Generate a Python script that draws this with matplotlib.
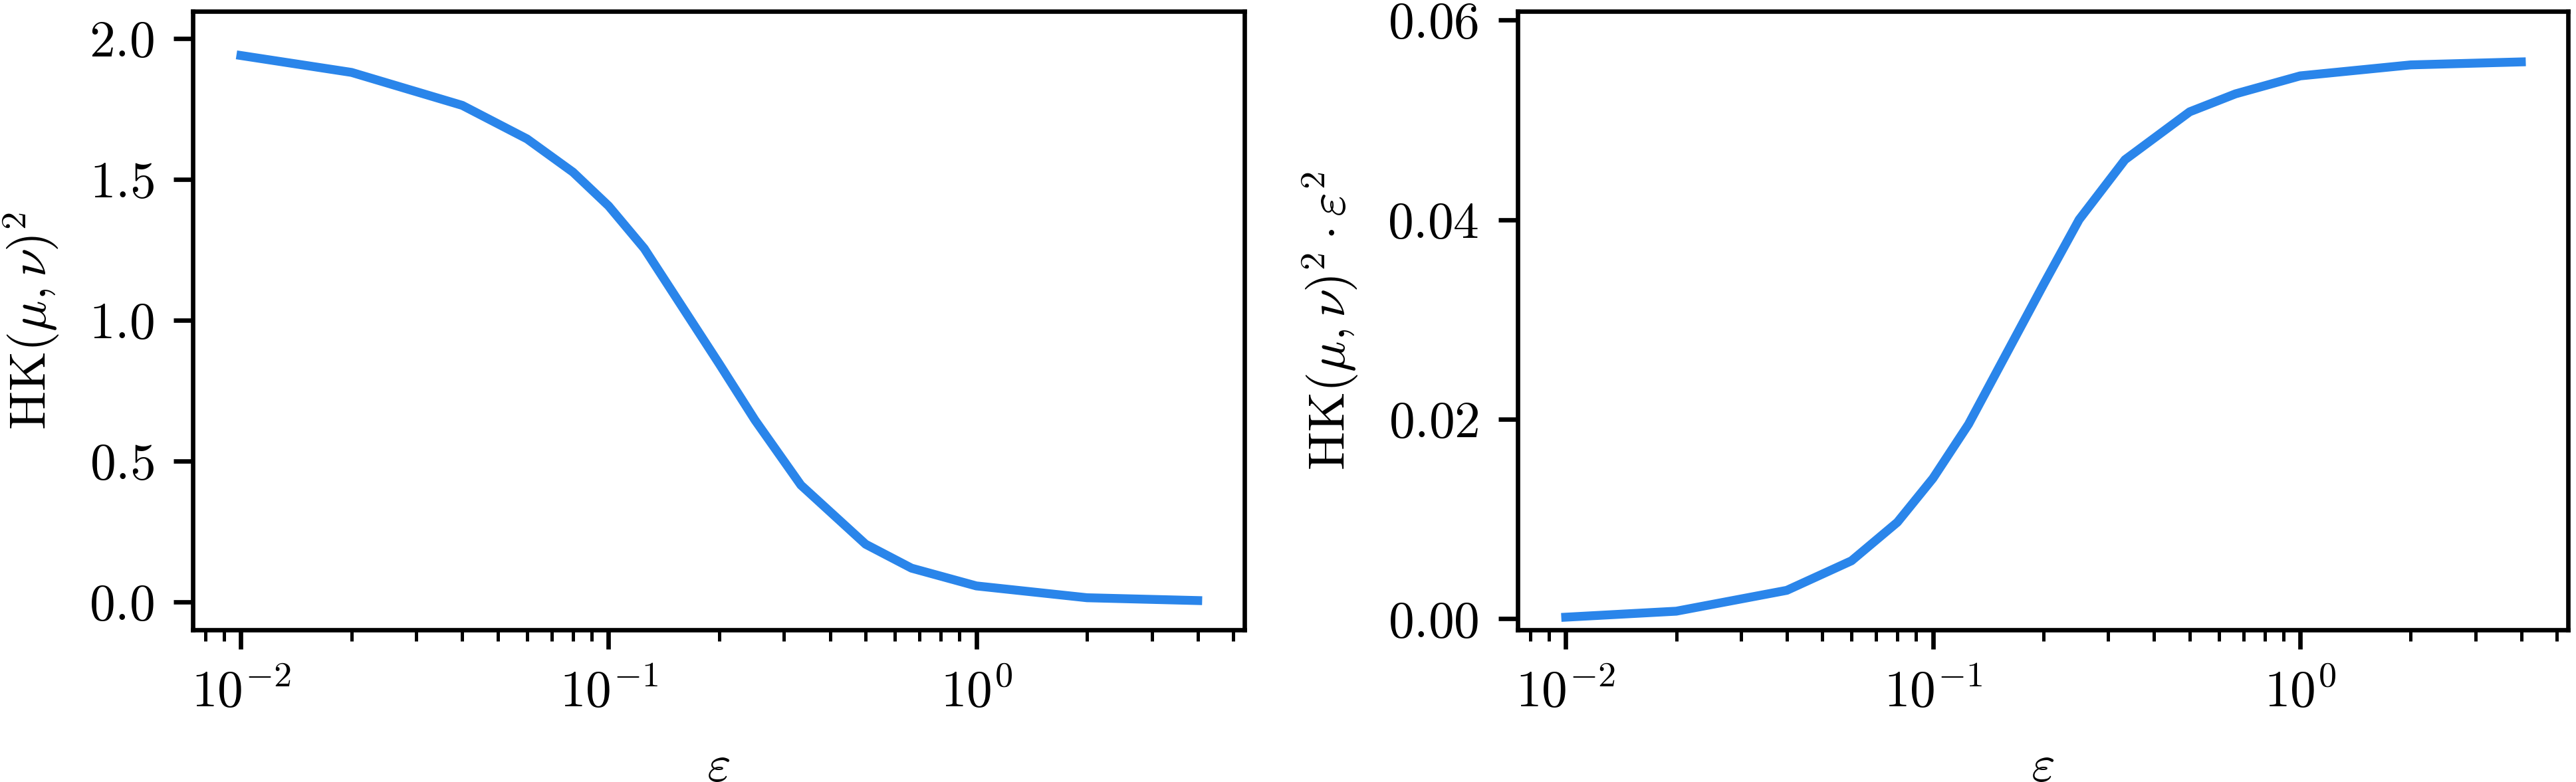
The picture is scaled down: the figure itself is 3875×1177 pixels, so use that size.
import numpy as np
import matplotlib.pyplot as plt

# epsilon values and measured curves
eps = [0.01, 0.02, 0.04, 0.06, 0.08, 0.1, 0.125, 0.2, 0.25, 1/3, 0.5, 2/3, 1.0, 2.0, 4.0]
hk_sq = [1.940, 1.880, 1.763, 1.644, 1.526, 1.406, 1.255, 0.845, 0.646, 0.415,
         0.205, 0.120, 0.057, 0.015, 0.005]
hk_sq_eps = [0.00017, 0.00077, 0.00286, 0.00582, 0.00968, 0.01408, 0.0195, 0.0335,
             0.0400, 0.0460, 0.0508, 0.0526, 0.0544, 0.0555, 0.0558]

plt.rcParams['font.family'] = 'serif'
plt.rcParams['font.serif'] = ['cmr10']
plt.rcParams['mathtext.fontset'] = 'cm'
plt.rcParams['axes.formatter.use_mathtext'] = True
plt.rcParams['font.size'] = 9.3

color = '#2a85ea'

fig, (ax1, ax2) = plt.subplots(1, 2, figsize=(3875 / 600, 1177 / 600), dpi=600)
ax1.set_position([290 / 3875, 1 - 948 / 1177, 1582 / 3875, 931 / 1177])
ax2.set_position([2283 / 3875, 1 - 948 / 1177, 1580 / 3875, 931 / 1177])

ax1.plot(eps, hk_sq, color=color, lw=1.6)
ax1.set_xscale('log')
ax1.set_ylim(-0.099, 2.097)
ax1.set_yticks([0.0, 0.5, 1.0, 1.5, 2.0])
ax1.set_xlabel(r'$\varepsilon$', labelpad=5.0)
ax1.set_ylabel(r'$\mathrm{HK}(\mu,\nu)^2$', labelpad=5)

ax2.plot(eps, hk_sq_eps, color=color, lw=1.6)
ax2.set_xscale('log')
ax2.set_ylim(-0.0011, 0.06087)
ax2.set_yticks([0.00, 0.02, 0.04, 0.06])
ax2.set_xlabel(r'$\varepsilon$', labelpad=5.0)
ax2.set_ylabel(r'$\mathrm{HK}(\mu,\nu)^2\cdot\varepsilon^2$', labelpad=5)

for ax in (ax1, ax2):
    ax.set_xlim(0.0074, 5.36)

fig.savefig('out.png', dpi=600)
